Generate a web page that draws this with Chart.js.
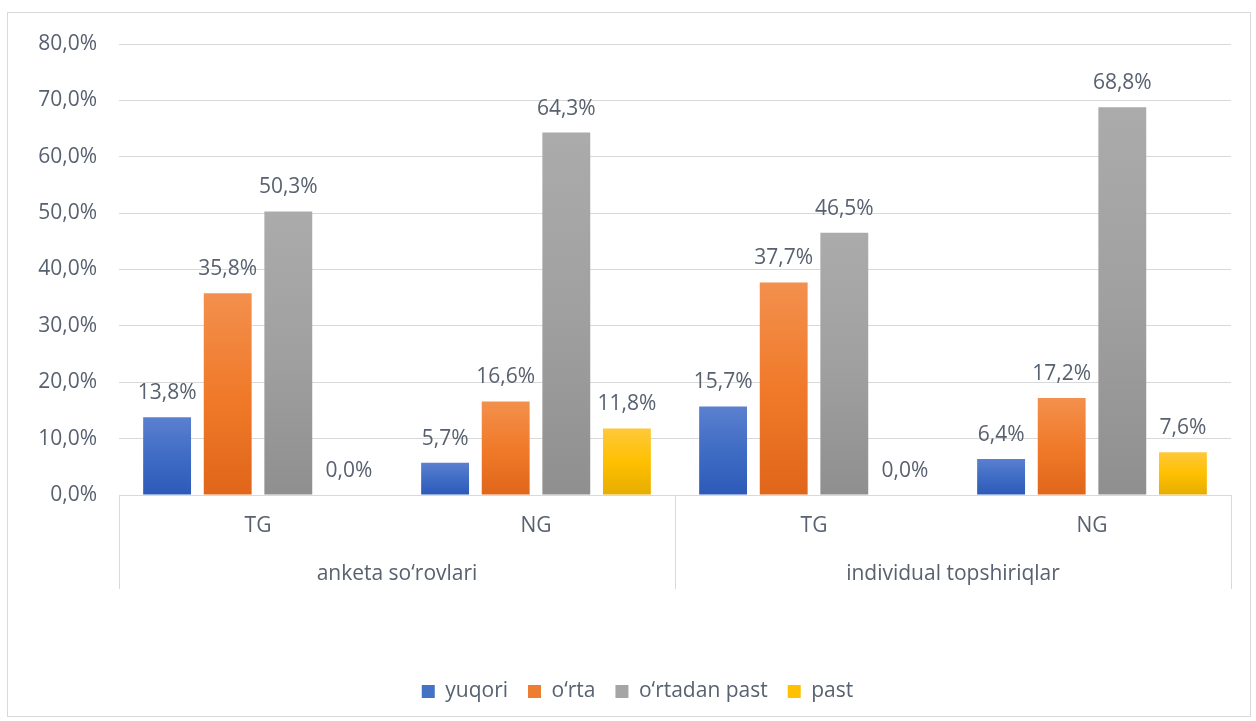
<!DOCTYPE html>
<html>
<head>
<meta charset="utf-8">
<script src="https://cdn.jsdelivr.net/npm/chart.js@4.4.1/dist/chart.umd.min.js"></script>
<style>
  body { margin: 0; background: #fff; }
  #box { position: absolute; left: 7px; top: 12px; width: 1242px; height: 703px; border: 1px solid #d9d9d9; }
</style>
</head>
<body>
<div id="box"><canvas id="myChart" width="1242" height="703"></canvas></div>
<script>
'use strict';
const categories = ['TG', 'NG', 'TG', 'NG'];
const groups = ['anketa so‘rovlari', 'individual topshiriqlar'];
const seriesNames = ['yuqori', 'o‘rta', 'o‘rtadan past', 'past'];
const yuqori = [13.8, 5.7, 15.7, 6.4];
const orta = [35.8, 16.6, 37.7, 17.2];
const ortadanPast = [50.3, 64.3, 46.5, 68.8];
const past = [0.0, 11.8, 0.0, 7.6];
const yTicks = [0, 10, 20, 30, 40, 50, 60, 70, 80];

const plain = ['#4472c4', '#ed7d31', '#a5a5a5', '#ffc000'];
const stops = [
  ['#5b80d0', '#3f6cc4', '#2d5ab8'],
  ['#f3904d', '#f07a2a', '#e0661a'],
  ['#ababab', '#a0a0a0', '#8f8f8f'],
  ['#ffc83a', '#ffc000', '#e6ad00']
];

const textColor = '#586170';
const font = 'Open Sans';
const fontSize = 21;

function fmt(v) {
  return v.toFixed(1).replace('.', ',') + '%';
}

function grad(i) {
  return function(ctx) {
    const chart = ctx.chart;
    const area = chart.chartArea;
    if (!area || ctx.parsed === undefined) return plain[i];
    const top = chart.scales.y.getPixelForValue(ctx.parsed.y);
    const bottom = chart.scales.y.getPixelForValue(0);
    if (bottom - top < 1) return plain[i];
    const g = chart.ctx.createLinearGradient(0, top, 0, bottom);
    g.addColorStop(0, stops[i][0]);
    g.addColorStop(0.5, stops[i][1]);
    g.addColorStop(1, stops[i][2]);
    return g;
  };
}

const valueLabels = {
  id: 'valueLabels',
  afterDatasetsDraw(chart) {
    const c = chart.ctx;
    c.save();
    c.font = fontSize + 'px "' + font + '"';
    c.fillStyle = textColor;
    c.textAlign = 'center';
    c.textBaseline = 'alphabetic';
    chart.data.datasets.forEach((ds, i) => {
      chart.getDatasetMeta(i).data.forEach((bar, j) => {
        c.fillText(fmt(ds.data[j]), bar.x, bar.y - 18);
      });
    });
    c.restore();
  }
};

// separators of the two-level category axis
const groupLines = {
  id: 'groupLines',
  afterLayout(chart) {
    // legend sits a bit right of centre in the original
    chart.legend.left += 18;
    chart.legend.right += 18;
  },
  afterDraw(chart) {
    const c = chart.ctx;
    const x = chart.scales.x;
    const x2 = chart.scales.x2;
    const area = chart.chartArea;
    const mid = (x.getPixelForValue(1) + x.getPixelForValue(2)) / 2;
    c.save();
    c.strokeStyle = '#d9d9d9';
    c.lineWidth = 1;
    c.beginPath();
    [area.left, mid, area.right].forEach(px => {
      px = Math.round(px) + 0.5;
      c.moveTo(px, area.bottom);
      c.lineTo(px, x2.top + 44);
    });
    c.stroke();
    c.restore();
  }
};

let ctx = document.getElementById('myChart').getContext('2d');
let chart = new Chart(ctx, {
  type: 'bar',
  data: {
    labels: categories,
    datasets: [
      { label: seriesNames[0], data: yuqori, backgroundColor: grad(0) },
      { label: seriesNames[1], data: orta, backgroundColor: grad(1) },
      { label: seriesNames[2], data: ortadanPast, backgroundColor: grad(2) },
      { label: seriesNames[3], data: past, backgroundColor: grad(3) }
    ]
  },
  options: {
    responsive: false,
    animation: false,
    categoryPercentage: 0.872,
    barPercentage: 0.79,
    layout: { padding: { top: 31, right: 19, bottom: 4, left: 0 } },
    scales: {
      y: {
        min: 0,
        max: 80,
        afterBuildTicks(scale) {
          scale.ticks = yTicks.map(v => ({ value: v }));
        },
        afterFit(scale) { scale.width = 111; },
        border: { display: false },
        grid: { color: '#d9d9d9', drawTicks: true, tickLength: 16, tickColor: 'rgba(0,0,0,0)' },
        ticks: {
          padding: 6,
          color: textColor,
          font: { family: font, size: fontSize },
          callback: v => fmt(v)
        }
      },
      x: {
        position: 'bottom',
        border: { display: true, color: '#d9d9d9' },
        grid: { display: false },
        afterFit(scale) { scale.height = 50; },
        ticks: {
          padding: 10,
          color: textColor,
          font: { family: font, size: fontSize }
        }
      },
      x2: {
        type: 'category',
        position: 'bottom',
        labels: groups,
        offset: true,
        border: { display: false },
        grid: { display: false },
        afterFit(scale) { scale.height = 116; },
        ticks: {
          padding: 8,
          color: textColor,
          font: { family: font, size: fontSize }
        }
      }
    },
    plugins: {
      tooltip: { enabled: false },
      legend: {
        position: 'bottom',
        labels: {
          color: textColor,
          font: { family: font, size: fontSize },
          boxWidth: 13,
          boxHeight: 13,
          padding: 20,
          generateLabels(chart) {
            return chart.data.datasets.map((ds, i) => ({
              text: ds.label,
              fillStyle: plain[i],
              strokeStyle: plain[i],
              lineWidth: 0,
              fontColor: textColor,
              datasetIndex: i
            }));
          }
        }
      }
    }
  },
  plugins: [valueLabels, groupLines]
});
</script>
</body>
</html>
